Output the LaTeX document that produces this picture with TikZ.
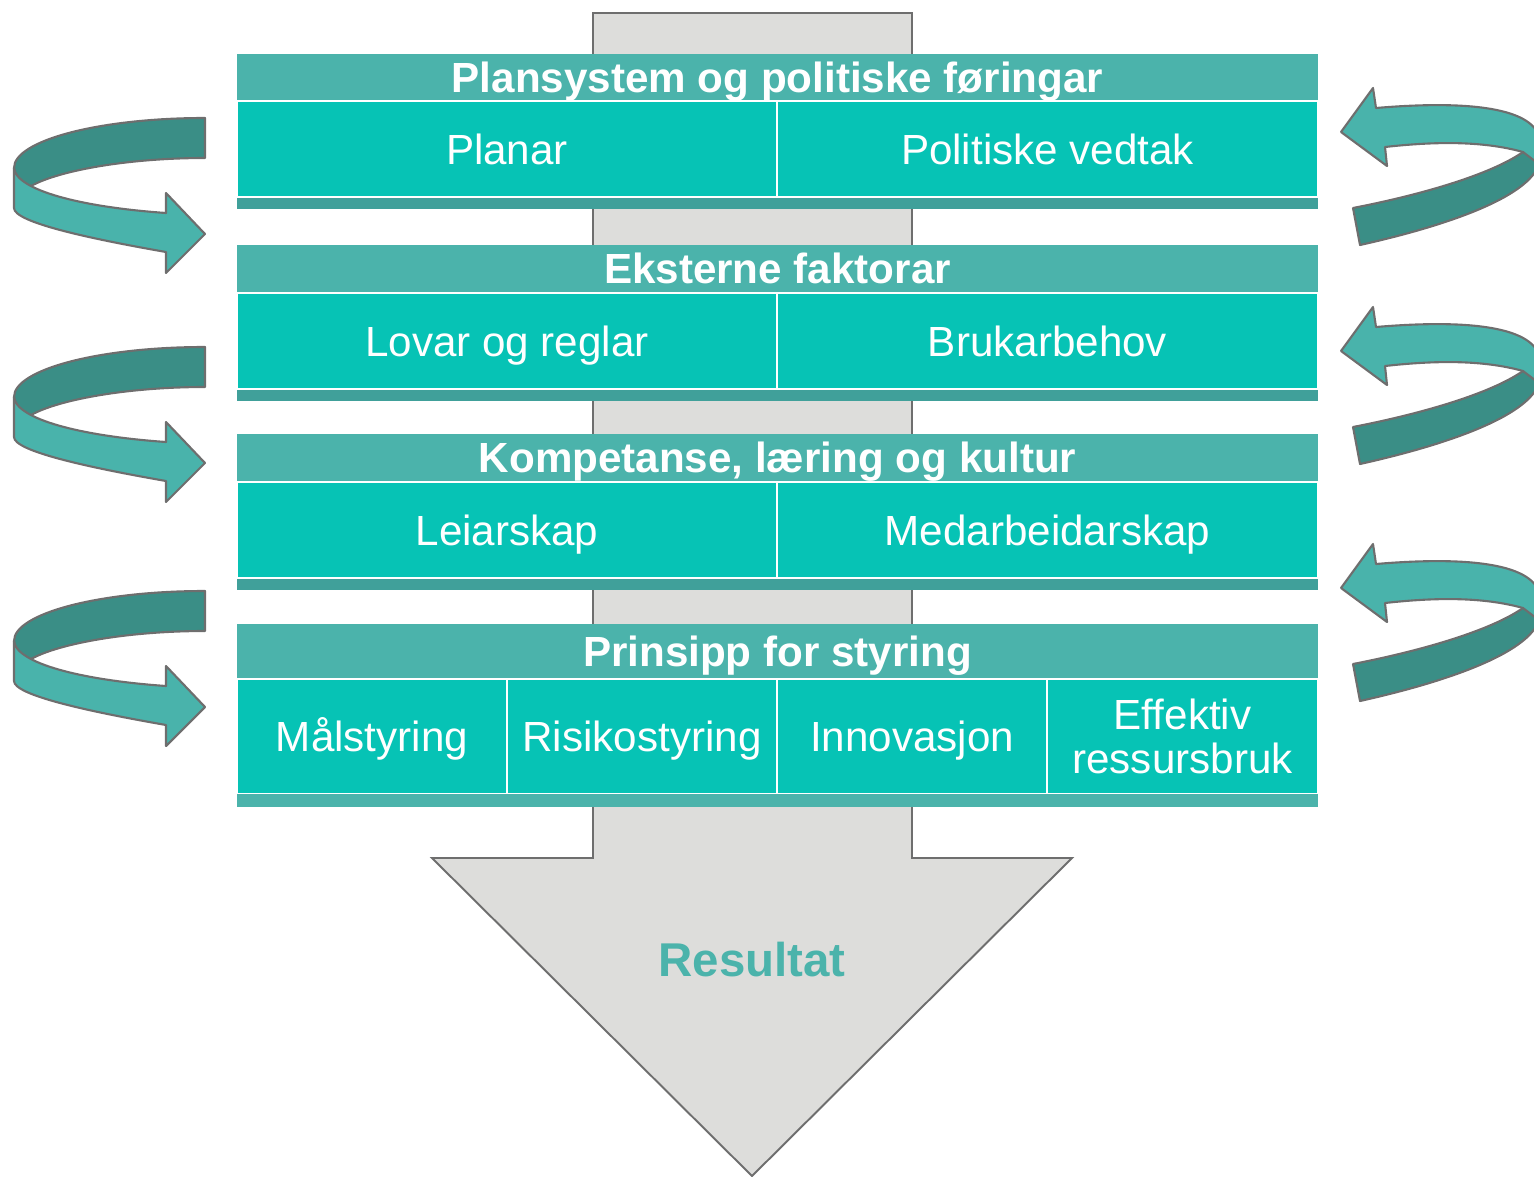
\documentclass[tikz,border=0pt]{standalone}
\usepackage{fontspec}
\setmainfont{Liberation Sans}
\definecolor{hdrc}{HTML}{4BB3AB}
\definecolor{cellc}{HTML}{06C3B5}
\definecolor{stripc}{HTML}{40A09A}
\definecolor{darkc}{HTML}{3A8E86}
\definecolor{lightc}{HTML}{49B3AB}
\definecolor{outc}{HTML}{6E6E6E}
\definecolor{grayf}{HTML}{DDDDDB}
\definecolor{rescol}{HTML}{4BB3AB}
\tikzset{
  curl/.style={draw=outc, line width=1.2pt, line join=round},
  leftcurl/.pic={
    \path[curl, fill=darkc] (205,118) .. controls (99.6,118) and (14,140.4) .. (14,168)
      .. controls (15,178) and (22,183) .. (31,186)
      .. controls (60,170) and (130,158) .. (205,158) -- cycle;
    \path[curl, fill=lightc] (14,168) -- (14,208) .. controls (14,222) and (86,238) .. (166,252)
      -- (166,273) -- (205,234) -- (166,193) -- (166,213)
      .. controls (80,207) and (16,190) .. (14,168) -- cycle;
  },
  rightcurl/.pic={
    \path[curl, fill=darkc] (1353,208) -- (1360,245) .. controls (1450,225) and (1535,195) .. (1540,160)
      -- (1540,150) -- (1523,152) .. controls (1490,175) and (1420,195) .. (1353,208) -- cycle;
    \path[curl, fill=lightc] (1341,132) -- (1373,88) -- (1376,108)
      .. controls (1470,100) and (1535,108) .. (1540,140) -- (1540,165) -- (1523,152)
      .. controls (1480,140) and (1430,142) .. (1385,147) -- (1387,166) -- cycle;
  }
}
\begin{document}
\begin{tikzpicture}[x=0.02cm,y=-0.02cm,
  hdr/.style={rectangle, fill=hdrc, inner sep=0pt, text=white,
    font=\fontsize{24}{28}\selectfont\bfseries, minimum width=21.62cm,
    text height=22pt, text depth=4.8pt},
  cellbase/.style={rectangle, fill=cellc, draw=white, line width=0.9pt, inner sep=0pt,
    text=white, font=\fontsize{24}{25}\selectfont},
  cellbox/.style={cellbase, text height=22pt, text depth=4.8pt},
  cellmulti/.style={cellbase, align=center}]
\useasboundingbox (0,0) rectangle (1534,1176);

% big grey arrow
\draw[fill=grayf, draw=outc, line width=1.1pt, line join=miter]
  (593,13) -- (912,13) -- (912,858) -- (1072,858) -- (752,1176) -- (432,858) -- (593,858) -- cycle;
\node[font=\fontsize{27}{30}\selectfont\bfseries, text=rescol] (res) at (752,960) {Resultat};

% band 1
\node[hdr, minimum height=0.9cm] (h1) at (777.5,77.5) {Plansystem og politiske føringar};
\node[cellbox, minimum width=10.8cm, minimum height=1.92cm] (c11) at (507,149) {Planar};
\node[cellbox, minimum width=10.82cm, minimum height=1.92cm] (c12) at (1047.5,149) {Politiske vedtak};
\fill[stripc] (237,198) rectangle (1318,209);

% band 2
\node[hdr, minimum height=0.9cm] (h2) at (777.5,268.5) {Eksterne faktorar};
\node[cellbox, minimum width=10.8cm, minimum height=1.92cm] (c21) at (507,341) {Lovar og reglar};
\node[cellbox, minimum width=10.82cm, minimum height=1.92cm] (c22) at (1047.5,341) {Brukarbehov};
\fill[stripc] (237,390) rectangle (1318,401);

% band 3
\node[hdr, minimum height=0.9cm] (h3) at (777.5,457.5) {Kompetanse, læring og kultur};
\node[cellbox, minimum width=10.8cm, minimum height=1.92cm] (c31) at (507,530) {Leiarskap};
\node[cellbox, minimum width=10.82cm, minimum height=1.92cm] (c32) at (1047.5,530) {Medarbeidarskap};
\fill[stripc] (237,579) rectangle (1318,590);

% band 4
\node[hdr, minimum height=1.08cm] (h4) at (777.5,651) {Prinsipp for styring};
\node[cellbox, minimum width=5.4cm, minimum height=2.3cm] (c41) at (372,736.5) {Målstyring};
\node[cellbox, minimum width=5.4cm, minimum height=2.3cm] (c42) at (642,736.5) {Risikostyring};
\node[cellbox, minimum width=5.4cm, minimum height=2.3cm] (c43) at (912,736.5) {Innovasjon};
\node[cellmulti, minimum width=5.42cm, minimum height=2.3cm] (c44) at (1182.5,736.5) {Effektiv\\ressursbruk};
\fill[hdrc] (237,794) rectangle (1318,807);

% curled arrows
\pic at (0,0) {leftcurl};
\pic at (0,229) {leftcurl};
\pic at (0,473) {leftcurl};
\pic at (0,0) {rightcurl};
\pic at (0,219) {rightcurl};
\pic at (0,456) {rightcurl};
\end{tikzpicture}
\end{document}
